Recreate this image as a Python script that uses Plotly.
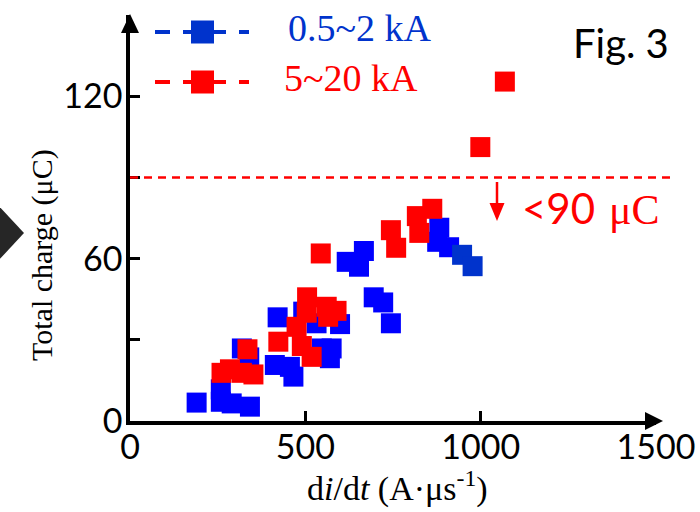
import plotly.graph_objects as go

# Rate of rise of current (A/us) and total charge (uC) per stroke
blue_x = [190, 259, 259, 290, 342, 319, 340, 421, 413, 456, 466, 494, 532, 547,
          575, 570, 599, 618, 667, 653, 695, 722, 744, 882, 876, 910]
blue_y = [6.8, 11.7, 7.1, 6.5, 5.3, 26.8, 23.5, 38.3, 20.7, 20.0, 16.4, 40.4, 36.1, 26.8,
          26.8, 23.2, 35.8, 58.8, 62.8, 57.0, 45.7, 43.8, 36.1, 71.4, 66.2, 64.2]
# last two strokes of the low-current group
blue_tail_x = [947, 977]
blue_tail_y = [61.4, 57.2]

red_x = [261, 285, 319, 352, 335, 423, 475, 505, 504, 490, 518, 561, 589, 565,
         544, 744, 759, 818, 862, 825, 999, 1069]
red_y = [17.8, 19.1, 17.8, 17.2, 26.5, 29.3, 34.8, 45.7, 40.0, 27.7, 23.7, 42.2, 40.7, 38.5,
         61.9, 70.5, 64.0, 75.7, 78.4, 69.5, 101.2, 125.4]

series_names = ["0.5~2 kA", "5~20 kA"]
limit_uC = 90
x_ticks = [0, 500, 1000, 1500]
y_ticks = [0, 60, 120]
y_minor_ticks = [30, 90, 150]

BLUE = "#0000FF"
BLUE_DARK = "#0033CC"
RED = "#FF0000"
SERIF = "Liberation Serif"
SANS = "Lato"

W, H = 700, 512
ML, MR, MT, MB = 130, 44, 15, 91
PW, PH = W - ML - MR, H - MT - MB


def px(xp):
    return (xp - ML) / PW


def py(yp):
    return (H - MB - yp) / PH


def triangle(points, color):
    pts = " L ".join(f"{px(a)},{py(b)}" for a, b in points)
    return dict(type="path", xref="paper", yref="paper", path=f"M {pts} Z",
                fillcolor=color, line=dict(width=0))


fig = go.Figure()
marker = dict(symbol="square", size=20, line=dict(width=0))
fig.add_trace(go.Scatter(x=blue_x, y=blue_y, mode="markers",
                         marker=dict(marker, color=BLUE), showlegend=False))
fig.add_trace(go.Scatter(x=blue_tail_x, y=blue_tail_y, mode="markers",
                         marker=dict(marker, color=BLUE_DARK), showlegend=False))
fig.add_trace(go.Scatter(x=red_x, y=red_y, mode="markers",
                         marker=dict(marker, color=RED), showlegend=False))

shapes = []
annotations = []

# charge limit line
shapes.append(dict(type="line", xref="paper", yref="y", x0=0, x1=px(672),
                   y0=limit_uC, y1=limit_uC,
                   line=dict(color=RED, width=2.5, dash="8px,6px")))

# legend keys: dashed line with a square marker
for (yc, col, name, tx) in [(32, BLUE_DARK, series_names[0], 286),
                            (82, RED, series_names[1], 282)]:
    shapes.append(dict(type="line", xref="paper", yref="paper",
                       x0=px(155), x1=px(249), y0=py(yc), y1=py(yc),
                       line=dict(color=col, width=4, dash="15px,13px")))
    shapes.append(dict(type="rect", xref="paper", yref="paper",
                       x0=px(191), x1=px(214), y0=py(yc + 11.5), y1=py(yc - 11.5),
                       fillcolor=col, line=dict(width=0)))
    annotations.append(dict(text=name, xref="paper", yref="paper",
                            x=px(tx), y=py(yc - 4), xanchor="left", yanchor="middle",
                            showarrow=False, font=dict(family=SERIF, size=38, color=col)))

# partial navigation triangle on the left edge
shapes.append(triangle([(-2, 205), (24, 233), (-2, 261)], "#262626"))

# axis arrowheads
shapes.append(triangle([(645, 412), (663, 421), (645, 430)], "black"))
shapes.append(triangle([(121, 33), (130, 14), (139, 33)], "black"))

# downward arrow below the limit line
shapes.append(dict(type="line", xref="paper", yref="paper", x0=px(497), x1=px(497),
                   y0=py(182), y1=py(206), line=dict(color=RED, width=2.5)))
shapes.append(triangle([(489.5, 203), (497, 221), (504.5, 203)], RED))

annotations.append(dict(text=f"&lt;{limit_uC}", xref="paper", yref="paper",
                        x=px(520), y=py(208), xanchor="left", yanchor="middle",
                        showarrow=False, font=dict(family=SANS, size=42, color=RED)))
annotations.append(dict(text="μC", xref="paper", yref="paper",
                        x=px(607), y=py(210), xanchor="left", yanchor="middle",
                        showarrow=False, font=dict(family=SERIF, size=42, color=RED)))

annotations.append(dict(text="Fig. 3", xref="paper", yref="paper", x=px(571), y=py(43),
                        xanchor="left", yanchor="middle", showarrow=False,
                        font=dict(family=SANS, size=40, color="black")))

# axis titles
annotations.append(dict(text="Total charge (μC)", xref="paper", yref="paper",
                        x=px(42), y=py(255), xanchor="center", yanchor="middle",
                        textangle=-90, showarrow=False,
                        font=dict(family=SERIF, size=30, color="black")))
annotations.append(dict(text="d<i>i</i>/d<i>t</i> (A·μs<sup>-1</sup>)", xref="paper",
                        yref="paper", x=px(397), y=py(486), xanchor="center",
                        yanchor="middle", showarrow=False,
                        font=dict(family=SERIF, size=34, color="black")))

axis_common = dict(showgrid=False, zeroline=False, showline=True, linecolor="black",
                   linewidth=3.5, ticks="inside", ticklen=10, tickwidth=3,
                   tickcolor="black", automargin=False,
                   tickfont=dict(family=SANS, size=34, color="black"))

fig.update_layout(
    width=W, height=H, autosize=False,
    margin=dict(l=ML, r=MR, t=MT, b=MB, pad=0),
    paper_bgcolor="white", plot_bgcolor="white",
    xaxis=dict(axis_common, range=[0, 1500], tickmode="array", tickvals=x_ticks,
               ticklabelstandoff=-7),
    yaxis=dict(axis_common, range=[0, 150], tickmode="array", tickvals=y_ticks,
               ticklabelstandoff=-3,
               minor=dict(tickmode="array", tickvals=y_minor_ticks, ticks="inside",
                          ticklen=10, tickwidth=3, tickcolor="black", showgrid=False)),
    shapes=shapes, annotations=annotations, showlegend=False,
)

fig.write_html("out.html")
